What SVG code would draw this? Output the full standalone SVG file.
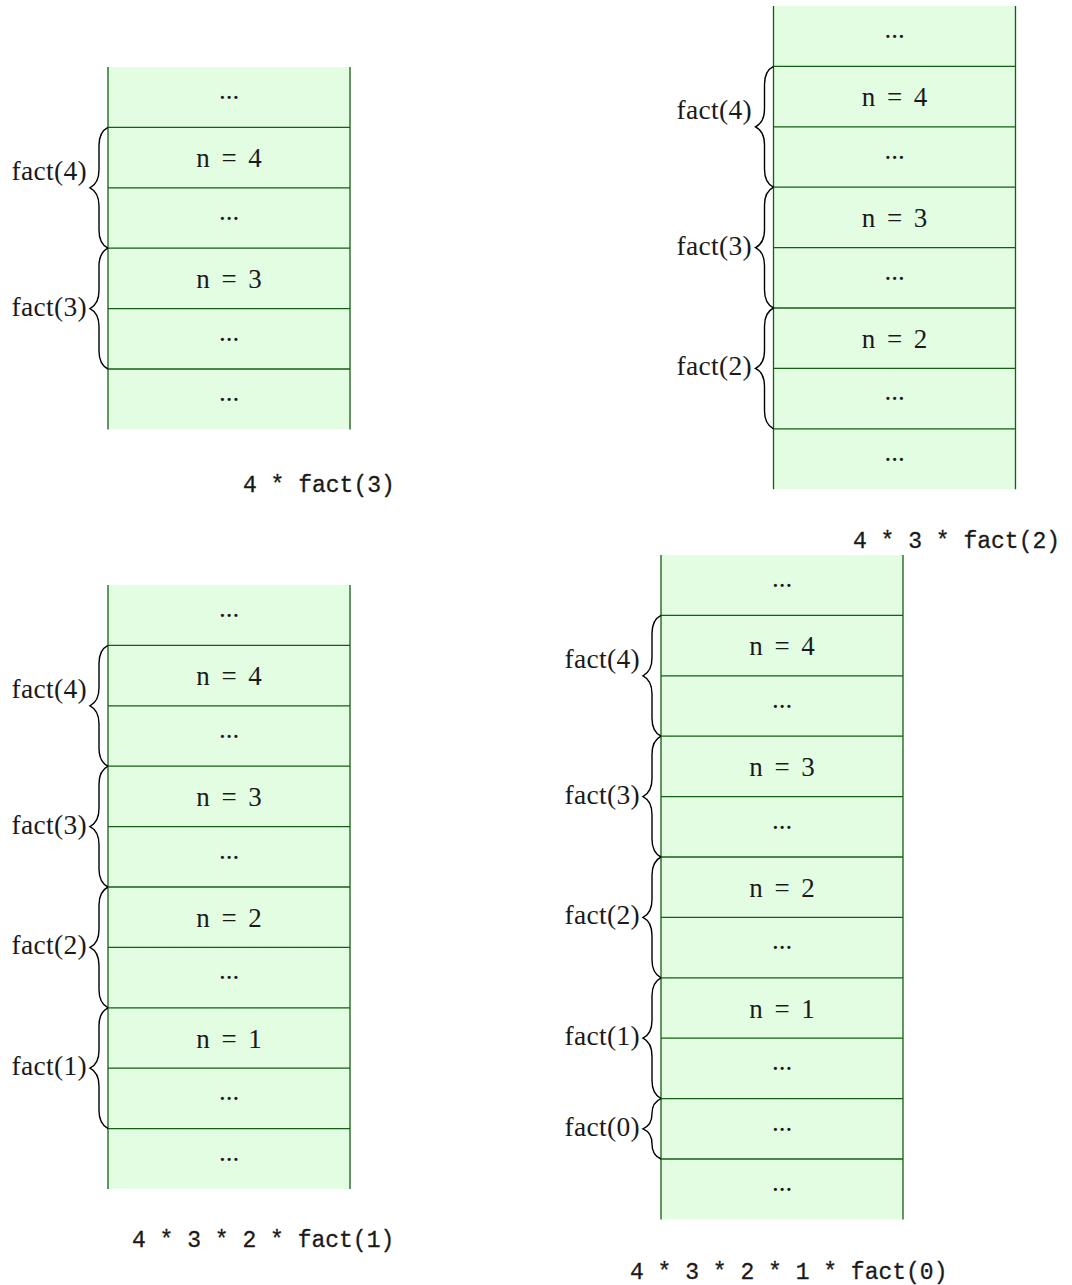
<svg xmlns="http://www.w3.org/2000/svg" xmlns:xlink="http://www.w3.org/1999/xlink" width="1072" height="1285" viewBox="0 0 1072 1285">
<style>
.bg{fill:#e3fde3;stroke:none}
.ln{stroke:#145f14;stroke-width:1.3;fill:none}
.br{stroke:#000;stroke-width:1.4;fill:none}
.c{font-family:"Liberation Serif",serif;font-size:27px;text-anchor:middle;fill:#1a1a1a}
.eq{word-spacing:5px}
.lb{font-family:"Liberation Serif",serif;font-size:27.5px;text-anchor:end;letter-spacing:0.3px;fill:#1a1a1a}
.code{font-family:"Liberation Mono",monospace;font-size:23px;fill:#1a1a1a;stroke:#1a1a1a;stroke-width:0.3}
</style>
<defs>
<path id="brace" class="br" d="M0,0 C-5.4,2.7 -9,9 -9,18 L-9,42.4 C-9,51.4 -12.6,57.7 -18,60.4 C-12.6,63.1 -9,69.4 -9,78.4 L-9,102.8 C-9,111.8 -5.4,118.1 0,120.8"/>
<path id="braceS" class="br" d="M0,0 C-5.4,2.25 -9,7.5 -9,15 L-9,15.2 C-9,22.7 -12.6,27.95 -18,30.2 C-12.6,32.45 -9,37.7 -9,45.2 L-9,45.4 C-9,52.9 -5.4,58.15 0,60.4"/>
</defs>

<!-- Stack A -->
<g id="stackA">
<g id="a0"><rect class="bg" x="108" y="67" width="242" height="60.4"/><text class="c" x="229" y="99">...</text></g>
<g id="a1"><rect class="bg" x="108" y="127.4" width="242" height="60.4"/><text class="c eq" x="229" y="167.4">n = 4</text></g>
<g id="a2"><rect class="bg" x="108" y="187.8" width="242" height="60.4"/><text class="c" x="229" y="219.8">...</text></g>
<g id="a3"><rect class="bg" x="108" y="248.2" width="242" height="60.4"/><text class="c eq" x="229" y="288.2">n = 3</text></g>
<g id="a4"><rect class="bg" x="108" y="308.6" width="242" height="60.4"/><text class="c" x="229" y="340.6">...</text></g>
<g id="a5"><rect class="bg" x="108" y="369" width="242" height="60.4"/><text class="c" x="229" y="401">...</text></g>
<path class="ln" d="M108 67V429.4M350 67V429.4M108 127.4H350M108 187.8H350M108 248.2H350M108 308.6H350M108 369H350"/>
<text id="a-lb4" class="lb" x="87" y="179.8">fact(4)</text>
<text id="a-lb3" class="lb" x="87" y="315.6">fact(3)</text>
<text id="a-expr" class="code" x="243" y="492">4 * fact(3)</text>
</g>

<!-- Stack B -->
<g id="stackB">
<g id="b0"><rect class="bg" x="773.5" y="6" width="242" height="60.4"/><text class="c" x="894.5" y="38">...</text></g>
<g id="b1"><rect class="bg" x="773.5" y="66.4" width="242" height="60.4"/><text class="c eq" x="894.5" y="106.4">n = 4</text></g>
<g id="b2"><rect class="bg" x="773.5" y="126.8" width="242" height="60.4"/><text class="c" x="894.5" y="158.8">...</text></g>
<g id="b3"><rect class="bg" x="773.5" y="187.2" width="242" height="60.4"/><text class="c eq" x="894.5" y="227.2">n = 3</text></g>
<g id="b4"><rect class="bg" x="773.5" y="247.6" width="242" height="60.4"/><text class="c" x="894.5" y="279.6">...</text></g>
<g id="b5"><rect class="bg" x="773.5" y="308" width="242" height="60.4"/><text class="c eq" x="894.5" y="348">n = 2</text></g>
<g id="b6"><rect class="bg" x="773.5" y="368.4" width="242" height="60.4"/><text class="c" x="894.5" y="400.4">...</text></g>
<g id="b7"><rect class="bg" x="773.5" y="428.8" width="242" height="60.4"/><text class="c" x="894.5" y="460.8">...</text></g>
<path class="ln" d="M773.5 6V489.2M1015.5 6V489.2M773.5 66.4H1015.5M773.5 126.8H1015.5M773.5 187.2H1015.5M773.5 247.6H1015.5M773.5 308H1015.5M773.5 368.4H1015.5M773.5 428.8H1015.5"/>
<text id="b-lb4" class="lb" x="752" y="118.8">fact(4)</text>
<text id="b-lb3" class="lb" x="752" y="254.6">fact(3)</text>
<text id="b-lb2" class="lb" x="752" y="375.4">fact(2)</text>
<text id="b-expr" class="code" x="853" y="548">4 * 3 * fact(2)</text>
</g>

<!-- Stack C -->
<g id="stackC">
<g id="c0"><rect class="bg" x="108" y="585" width="242" height="60.4"/><text class="c" x="229" y="617">...</text></g>
<g id="c1"><rect class="bg" x="108" y="645.4" width="242" height="60.4"/><text class="c eq" x="229" y="685.4">n = 4</text></g>
<g id="c2"><rect class="bg" x="108" y="705.8" width="242" height="60.4"/><text class="c" x="229" y="737.8">...</text></g>
<g id="c3"><rect class="bg" x="108" y="766.2" width="242" height="60.4"/><text class="c eq" x="229" y="806.2">n = 3</text></g>
<g id="c4"><rect class="bg" x="108" y="826.6" width="242" height="60.4"/><text class="c" x="229" y="858.6">...</text></g>
<g id="c5"><rect class="bg" x="108" y="887" width="242" height="60.4"/><text class="c eq" x="229" y="927">n = 2</text></g>
<g id="c6"><rect class="bg" x="108" y="947.4" width="242" height="60.4"/><text class="c" x="229" y="979.4">...</text></g>
<g id="c7"><rect class="bg" x="108" y="1007.8" width="242" height="60.4"/><text class="c eq" x="229" y="1047.8">n = 1</text></g>
<g id="c8"><rect class="bg" x="108" y="1068.2" width="242" height="60.4"/><text class="c" x="229" y="1100.2">...</text></g>
<g id="c9"><rect class="bg" x="108" y="1128.6" width="242" height="60.4"/><text class="c" x="229" y="1160.6">...</text></g>
<path class="ln" d="M108 585V1189M350 585V1189M108 645.4H350M108 705.8H350M108 766.2H350M108 826.6H350M108 887H350M108 947.4H350M108 1007.8H350M108 1068.2H350M108 1128.6H350"/>
<text id="c-lb4" class="lb" x="87" y="697.8">fact(4)</text>
<text id="c-lb3" class="lb" x="87" y="833.6">fact(3)</text>
<text id="c-lb2" class="lb" x="87" y="954.4">fact(2)</text>
<text id="c-lb1" class="lb" x="87" y="1075.2">fact(1)</text>
<text id="c-expr" class="code" x="132" y="1247">4 * 3 * 2 * fact(1)</text>
</g>

<!-- Stack D -->
<g id="stackD">
<g id="d0"><rect class="bg" x="661" y="555" width="242" height="60.4"/><text class="c" x="782" y="587">...</text></g>
<g id="d1"><rect class="bg" x="661" y="615.4" width="242" height="60.4"/><text class="c eq" x="782" y="655.4">n = 4</text></g>
<g id="d2"><rect class="bg" x="661" y="675.8" width="242" height="60.4"/><text class="c" x="782" y="707.8">...</text></g>
<g id="d3"><rect class="bg" x="661" y="736.2" width="242" height="60.4"/><text class="c eq" x="782" y="776.2">n = 3</text></g>
<g id="d4"><rect class="bg" x="661" y="796.6" width="242" height="60.4"/><text class="c" x="782" y="828.6">...</text></g>
<g id="d5"><rect class="bg" x="661" y="857" width="242" height="60.4"/><text class="c eq" x="782" y="897">n = 2</text></g>
<g id="d6"><rect class="bg" x="661" y="917.4" width="242" height="60.4"/><text class="c" x="782" y="949.4">...</text></g>
<g id="d7"><rect class="bg" x="661" y="977.8" width="242" height="60.4"/><text class="c eq" x="782" y="1017.8">n = 1</text></g>
<g id="d8"><rect class="bg" x="661" y="1038.2" width="242" height="60.4"/><text class="c" x="782" y="1070.2">...</text></g>
<g id="d9"><rect class="bg" x="661" y="1098.6" width="242" height="60.4"/><text class="c" x="782" y="1130.6">...</text></g>
<g id="d10"><rect class="bg" x="661" y="1159" width="242" height="60.4"/><text class="c" x="782" y="1191">...</text></g>
<path class="ln" d="M661 555V1219.4M903 555V1219.4M661 615.4H903M661 675.8H903M661 736.2H903M661 796.6H903M661 857H903M661 917.4H903M661 977.8H903M661 1038.2H903M661 1098.6H903M661 1159H903"/>
<text id="d-lb4" class="lb" x="640" y="667.8">fact(4)</text>
<text id="d-lb3" class="lb" x="640" y="803.6">fact(3)</text>
<text id="d-lb2" class="lb" x="640" y="924.4">fact(2)</text>
<text id="d-lb1" class="lb" x="640" y="1045.2">fact(1)</text>
<text id="d-lb0" class="lb" x="640" y="1135.8">fact(0)</text>
<text id="d-expr" class="code" x="630" y="1279">4 * 3 * 2 * 1 * fact(0)</text>
</g>

<!-- Braces -->
<g id="connectors">
<use href="#brace" x="108" y="127.4"/>
<use href="#brace" x="108" y="248.2"/>
<use href="#brace" x="773.5" y="66.4"/>
<use href="#brace" x="773.5" y="187.2"/>
<use href="#brace" x="773.5" y="308"/>
<use href="#brace" x="108" y="645.4"/>
<use href="#brace" x="108" y="766.2"/>
<use href="#brace" x="108" y="887"/>
<use href="#brace" x="108" y="1007.8"/>
<use href="#brace" x="661" y="615.4"/>
<use href="#brace" x="661" y="736.2"/>
<use href="#brace" x="661" y="857"/>
<use href="#brace" x="661" y="977.8"/>
<use href="#braceS" x="661" y="1098.6"/>
</g>
</svg>
